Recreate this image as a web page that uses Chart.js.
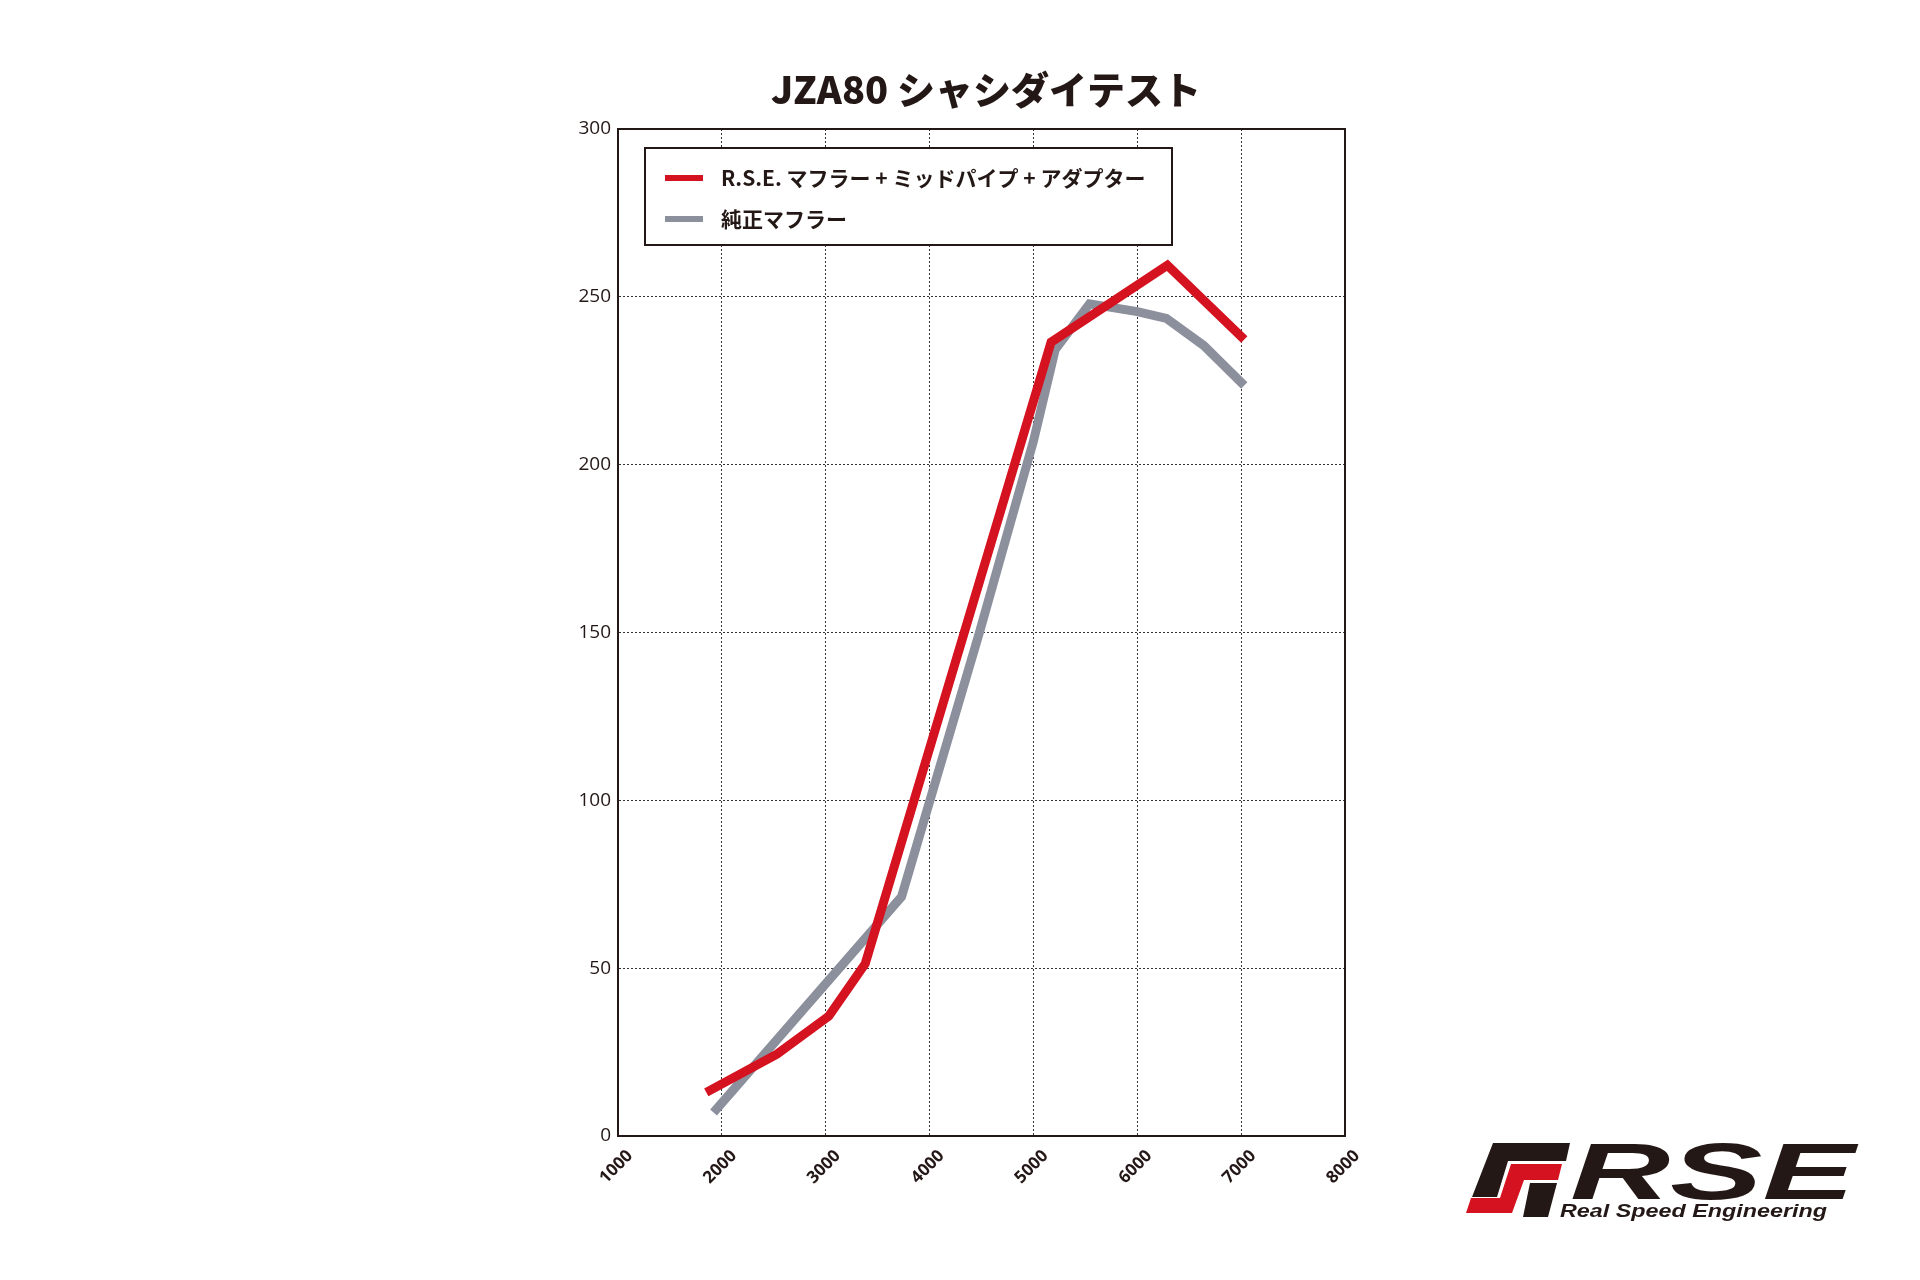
<!DOCTYPE html>
<html>
<head>
<meta charset="utf-8">
<script src="https://cdn.jsdelivr.net/npm/chart.js@4.4.1/dist/chart.umd.min.js"></script>
<style>
  html, body { margin: 0; padding: 0; background: #fff; }
  #wrap { position: relative; width: 1920px; height: 1280px; }
  #logo { position: absolute; left: 1460px; top: 1135px; }
</style>
</head>
<body>
<div id="wrap">
  <canvas id="myChart" width="1920" height="1280"></canvas>
  <svg id="logo" width="400" height="95" viewBox="0 0 400 95">
    <polygon fill="#231815" points="33,8 110,8 106,26 48,26 37,62 12,62" />
    <polygon fill="#d5121f" points="51,29 102,29 98,45 64,45 52,78 6,78 11,63 40,63" />
    <polygon fill="#231815" points="70,48 97,48 88,82 63,82" />
    <text x="110" y="64" font-family="Liberation Sans" font-weight="bold" font-style="italic" font-size="80" fill="#231815" textLength="285" lengthAdjust="spacingAndGlyphs">RSE</text>
    <text x="100" y="82" font-family="Liberation Sans" font-weight="bold" font-style="italic" font-size="18" fill="#231815" textLength="267" lengthAdjust="spacingAndGlyphs">Real Speed Engineering</text>
  </svg>
</div>
<script>
// chart title + series names
const chartTitle = 'JZA80 シャシダイテスト';
const rseLabel = 'R.S.E. マフラー + ミッドパイプ + アダプター';
const stockLabel = '純正マフラー';

// rpm / power
const rseRpm   = [1850, 2530, 3030, 3380, 5170, 6290, 7030];
const rsePower = [13, 24.4, 35.7, 51.3, 236.5, 259.4, 237.3];

const stockRpm   = [1920, 3730, 4480, 5000, 5210, 5540, 6000, 6280, 6640, 7030];
const stockPower = [7, 71.3, 150, 207, 234.3, 247.9, 245.6, 243.6, 235.5, 223.6];

const rpmTicks = [1000, 2000, 3000, 4000, 5000, 6000, 7000, 8000];
const powerTicks = [0, 50, 100, 150, 200, 250, 300];

const RED = '#d5121f';
const GRAY = '#8c909c';
const INK = '#231815';

const toPoints = (xs, ys) => xs.map((x, i) => ({ x: x, y: ys[i] }));

// white legend box + frame + title
const decor = {
  id: 'decor',
  beforeDatasetsDraw(chart) {
    const c = chart.ctx;
    const x0 = 645, y0 = 148, w = 527, h = 97;
    c.save();
    c.fillStyle = '#fff';
    c.fillRect(x0, y0, w, h);
    c.strokeStyle = INK;
    c.lineWidth = 2;
    c.strokeRect(x0, y0, w, h);
    chart.data.datasets.forEach((ds, i) => {
      const y = 178 + i * 41;
      c.strokeStyle = ds.borderColor;
      c.lineWidth = 6;
      c.beginPath();
      c.moveTo(665, y);
      c.lineTo(703, y);
      c.stroke();
      c.fillStyle = INK;
      c.font = 'bold 21px "Noto Sans CJK JP"';
      c.textBaseline = 'middle';
      c.textAlign = 'left';
      c.fillText(ds.label, 721, y);
    });
    c.restore();
  },
  afterDraw(chart) {
    const c = chart.ctx;
    const a = chart.chartArea;
    c.save();
    c.strokeStyle = INK;
    c.lineWidth = 2;
    c.strokeRect(a.left, a.top, a.right - a.left, a.bottom - a.top);
    c.fillStyle = INK;
    c.font = '900 38px "Noto Sans CJK JP"';
    c.textAlign = 'center';
    c.textBaseline = 'middle';
    c.fillText(chartTitle, 986, 90);
    c.restore();
  }
};

const ctx = document.getElementById('myChart');

new Chart(ctx, {
  type: 'line',
  data: {
    datasets: [
      {
        label: rseLabel,
        data: toPoints(rseRpm, rsePower),
        borderColor: RED,
        borderWidth: 9,
      },
      {
        label: stockLabel,
        data: toPoints(stockRpm, stockPower),
        borderColor: GRAY,
        borderWidth: 9,
      }
    ]
  },
  options: {
    responsive: false,
    animation: false,
    devicePixelRatio: 1,
    layout: { padding: { left: 558, right: 575, top: 129, bottom: 74 } },
    elements: {
      point: { radius: 0 },
      line: { tension: 0, borderJoinStyle: 'miter', borderCapStyle: 'butt' }
    },
    plugins: {
      legend: { display: false },
      title: { display: false },
      tooltip: { enabled: false }
    },
    scales: {
      x: {
        type: 'linear',
        min: rpmTicks[0],
        max: rpmTicks[rpmTicks.length - 1],
        afterBuildTicks: (s) => { s.ticks = rpmTicks.map(v => ({ value: v })); },
        afterFit: (s) => { s.height = 70; },
        ticks: {
          minRotation: 45,
          maxRotation: 45,
          labelOffset: 12,
          padding: 10,
          color: INK,
          font: { family: '"Open Sans"', weight: 'bold', size: 17 },
          callback: (v) => String(v)
        },
        grid: { color: '#333', lineWidth: 1, drawTicks: false },
        border: { display: true, color: INK, width: 2, dash: [2, 2] }
      },
      y: {
        min: powerTicks[0],
        max: powerTicks[powerTicks.length - 1],
        afterBuildTicks: (s) => { s.ticks = powerTicks.map(v => ({ value: v })); },
        afterFit: (s) => { s.width = 60; },
        ticks: {
          padding: 7,
          color: INK,
          font: { family: '"Open Sans"', size: 19 }
        },
        grid: { color: '#333', lineWidth: 1, drawTicks: false },
        border: { display: true, color: INK, width: 2, dash: [2, 2] }
      }
    }
  },
  plugins: [decor]
});
</script>
</body>
</html>
